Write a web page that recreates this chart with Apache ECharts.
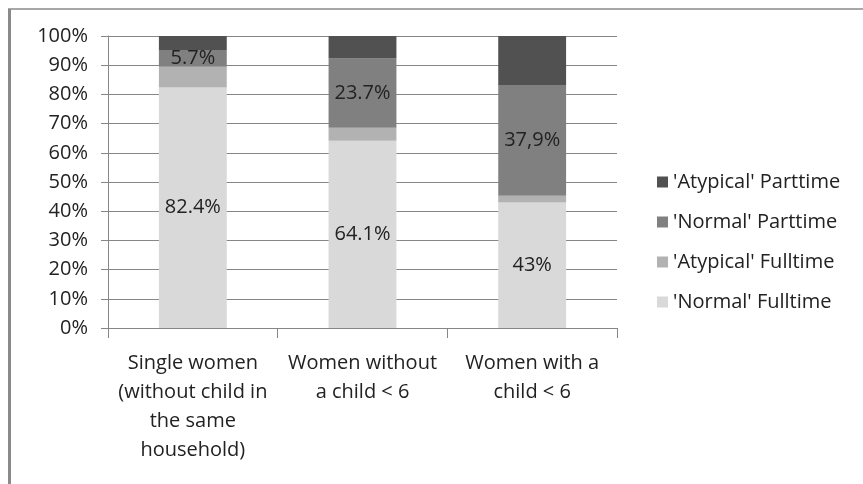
<!DOCTYPE html>
<html>
<head>
<meta charset="utf-8">
<script src="https://cdn.jsdelivr.net/npm/echarts@6/dist/echarts.min.js"></script>
<style>
  html, body { margin: 0; padding: 0; background: #fff; }
  #chart { width: 863px; height: 484px; }
</style>
</head>
<body>
<div id="chart"></div>
<script>
// Employment pattern of women by household type (shares in %)
const categories = [
  'Single women\n(without child in\nthe same\nhousehold)',
  'Women without\na child < 6',
  'Women with a\nchild < 6'
];
const seriesNames = ["'Atypical' Parttime", "'Normal' Parttime", "'Atypical' Fulltime", "'Normal' Fulltime"];
const normalFulltime   = [82.4, 64.1, 43.0];
const atypicalFulltime = [7.1, 4.5, 2.3];
const normalParttime   = [5.7, 23.7, 37.9];
const atypicalParttime = [4.8, 7.7, 16.8];
const normalFulltimeLabels = ['82.4%', '64.1%', '43%'];
const normalParttimeLabels = ['5.7%', '23.7%', '37,9%'];
const yTicks = [0, 10, 20, 30, 40, 50, 60, 70, 80, 90, 100];

const FONT = '"Open Sans", "Liberation Sans", sans-serif';
const TEXT = '#222222';
const GRID = '#868686';

function labelFrom(texts) {
  return {
    show: true,
    position: 'inside',
    color: TEXT,
    fontFamily: FONT,
    fontSize: 20,
    formatter: p => texts[p.dataIndex]
  };
}

const chart = echarts.init(document.getElementById('chart'), null, { renderer: 'canvas' });

const barBase = { type: 'bar', stack: 'share', barWidth: '40%', silent: true };

chart.setOption({
  animation: false,
  backgroundColor: '#fff',
  textStyle: { fontFamily: FONT },
  graphic: [
    { type: 'line', shape: { x1: 8, y1: 9, x2: 863, y2: 9 }, style: { stroke: '#8a8a8a', lineWidth: 1.5 } },
    { type: 'line', shape: { x1: 9.5, y1: 9, x2: 9.5, y2: 484 }, style: { stroke: '#8a8a8a', lineWidth: 3 } }
  ],
  grid: { left: 108, right: 246, top: 36, bottom: 156, containLabel: false },
  legend: {
    orient: 'vertical',
    left: 652,
    top: 166,
    itemWidth: 11,
    itemHeight: 11,
    itemGap: 18,
    icon: 'rect',
    data: seriesNames,
    textStyle: { color: TEXT, fontFamily: FONT, fontSize: 20, lineHeight: 22 }
  },
  xAxis: {
    type: 'category',
    data: categories,
    axisLine: { lineStyle: { color: GRID, width: 1 } },
    axisTick: { show: true, length: 10, alignWithLabel: false, lineStyle: { color: GRID } },
    axisLabel: {
      color: TEXT, fontFamily: FONT, fontSize: 20, lineHeight: 29,
      margin: 21, interval: 0, align: 'center'
    }
  },
  yAxis: {
    type: 'value',
    min: yTicks[0],
    max: yTicks[yTicks.length - 1],
    interval: yTicks[1] - yTicks[0],
    axisLine: { show: true, lineStyle: { color: GRID } },
    axisTick: { show: true, length: 7, lineStyle: { color: GRID } },
    splitLine: { lineStyle: { color: GRID, width: 1 } },
    axisLabel: {
      color: TEXT, fontFamily: FONT, fontSize: 20, margin: 20,
      formatter: v => v + '%'
    }
  },
  series: [
    Object.assign({}, barBase, {
      name: seriesNames[3], data: normalFulltime,
      itemStyle: { color: '#d9d9d9' }, label: labelFrom(normalFulltimeLabels)
    }),
    Object.assign({}, barBase, {
      name: seriesNames[2], data: atypicalFulltime,
      itemStyle: { color: '#b2b2b2' }
    }),
    Object.assign({}, barBase, {
      name: seriesNames[1], data: normalParttime,
      itemStyle: { color: '#808080' }, label: labelFrom(normalParttimeLabels)
    }),
    Object.assign({}, barBase, {
      name: seriesNames[0], data: atypicalParttime,
      itemStyle: { color: '#515151' }
    })
  ]
});
</script>
</body>
</html>
